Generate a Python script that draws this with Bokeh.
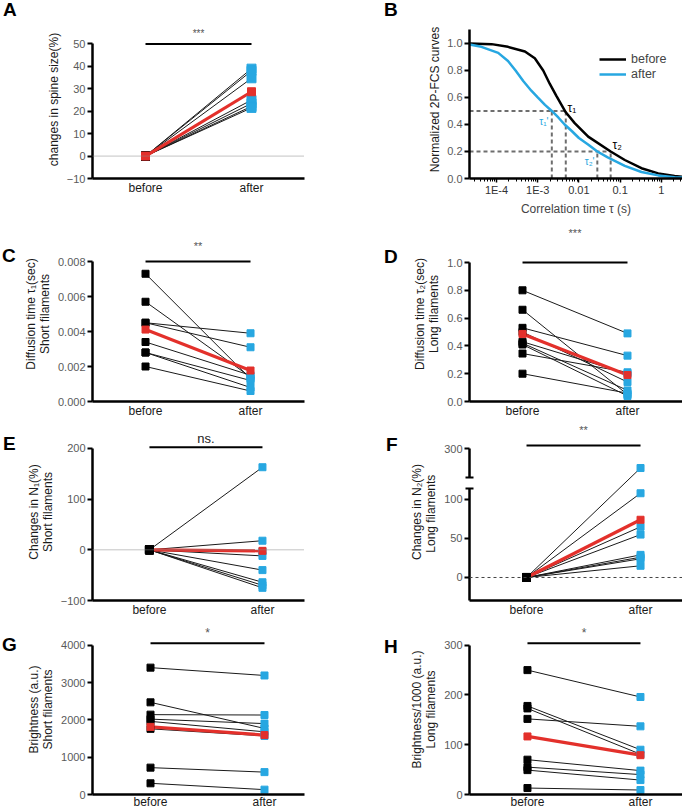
from bokeh.plotting import figure
from bokeh.layouts import column, row
from bokeh.models import (Range1d, FixedTicker, Legend, LegendItem, NumeralTickFormatter, Span, Div)
from bokeh.core.properties import value
from bokeh.embed import file_html
from bokeh.resources import INLINE

FONT = "Liberation Sans"
BLUE = "#27a7e1"
RED = "#e3302b"
TICK_GRAY = "#5a5a5a"

conditions = ["before", "after"]

# ---------------- data ----------------
# A: changes in spine size (%)
a_before = [0, 0, 0, 0, 0, 0, 0]
a_after = [39.0, 38.0, 34.7, 25.0, 23.5, 22.2, 21.5]
a_mean = [0.0, 28.7]

# B: normalized 2P-FCS curves
b_tau_before = [2.21e-5, 7.6e-5, 1.9e-4, 4.9e-4, 8.5e-4, 1.36e-3, 1.97e-3, 2.86e-3,
                4.8e-3, 7.9e-3, 0.0168, 0.059, 0.13, 0.33, 0.84, 2.1, 3.2]
b_g_before = [1.0, 0.995, 0.975, 0.94, 0.89, 0.80, 0.70, 0.61,
              0.49, 0.41, 0.31, 0.20, 0.137, 0.076, 0.038, 0.018, 0.013]
b_tau_after = [2.21e-5, 4.3e-5, 1.1e-4, 1.9e-4, 2.9e-4, 4.5e-4, 7.0e-4, 1.0e-3, 1.5e-3,
               2.2e-3, 3.2e-3, 4.5e-3, 6.8e-3, 0.010, 0.017, 0.028, 0.05, 0.13, 0.33,
               0.84, 2.1, 3.2]
b_g_after = [0.993, 0.975, 0.93, 0.87, 0.80, 0.72, 0.65, 0.60, 0.545,
             0.50, 0.45, 0.40, 0.35, 0.30, 0.25, 0.20, 0.157, 0.094, 0.048,
             0.023, 0.01, 0.007]
b_levels = [0.5, 0.2]
b_tau_marks_before = [4.8e-3, 0.059]
b_tau_marks_after = [2.2e-3, 0.028]

# C: diffusion time tau1 (s), short filaments
c_before = [0.0073, 0.0057, 0.0045, 0.0045, 0.0034, 0.0028, 0.0028, 0.0020]
c_after = [0.0013, 0.0014, 0.0039, 0.0031, 0.0015, 0.0012, 0.0008, 0.0006]
c_mean = [0.00411, 0.00177]

# D: diffusion time tau2 (s), long filaments
d_before = [0.80, 0.66, 0.53, 0.50, 0.43, 0.42, 0.41, 0.345, 0.20]
d_after = [0.49, 0.05, 0.33, 0.14, 0.20, 0.08, 0.04, 0.21, 0.06]
d_mean = [0.486, 0.19]

# E: changes in N1 (%)
e_before = [0, 0, 0, 0, 0, 0, 0, 0]
e_after = [163, 18, -3, -12, -40, -64, -70, -75]
e_mean = [0, -2]

# F: changes in N2 (%)
f_before = [0, 0, 0, 0, 0, 0, 0, 0]
f_after = [200, 108, 65, 55, 29, 26, 24, 15]
f_mean = [0, 74]

# G: brightness (a.u.), short filaments
g_before = [3400, 2470, 2140, 2020, 1960, 1760, 720, 300]
g_after = [3190, 1770, 2130, 1900, 1680, 1570, 600, 130]
g_mean = [1812, 1593]

# H: brightness/1000 (a.u.), long filaments
h_before = [250, 178, 173, 152, 70, 55, 49, 13]
h_after = [196, 90, 81, 137, 48, 40, 29, 9]
h_mean = [116.7, 79]

# ---------------- layout geometry (page pixels) ----------------
LEFT_DIV_W, RIGHT_DIV_W = 20, 60
LEFT = dict(x0=20, fl=92, fr=304, w=321)
RIGHT = dict(x0=401, fl=469, fr=682, w=281)


def base_fig(col, y0, h, ft, fb, xr, yr, **kw):
    p = figure(width=col["w"], height=h, x_range=Range1d(*xr), y_range=Range1d(*yr),
               output_backend="svg", toolbar_location=None,
               min_border_left=col["fl"] - col["x0"], min_border_right=col["x0"] + col["w"] - col["fr"],
               min_border_top=ft - y0, min_border_bottom=y0 + h - fb, **kw)
    p.outline_line_color = None
    p.xgrid.visible = False
    p.ygrid.visible = False
    return p


def style_y(ya, ticks, label, bounds=None, fmt=None):
    ya.ticker = FixedTicker(ticks=ticks)
    if bounds is not None:
        ya.bounds = bounds
    if fmt is not None:
        ya.formatter = NumeralTickFormatter(format=fmt)
    ya.axis_line_width = 2.5
    ya.axis_line_color = "black"
    ya.major_tick_out = 5
    ya.major_tick_in = 0
    ya.major_tick_line_width = 2
    ya.minor_tick_line_color = None
    ya.major_label_standoff = 2
    ya.major_label_text_font = FONT
    ya.major_label_text_font_size = "11px"
    ya.major_label_text_color = TICK_GRAY
    ya.axis_label = label
    ya.axis_label_text_font = FONT
    ya.axis_label_text_font_size = "12px"
    ya.axis_label_text_font_style = "normal"
    ya.axis_label_text_color = "#1a1a1a"
    ya.axis_label_standoff = 3
    ya.axis_label_text_line_height = 1.0


def style_x_pair(xa, standoff=2):
    xa.ticker = FixedTicker(ticks=[0, 1])
    xa.major_label_overrides = {i: c for i, c in enumerate(conditions)}
    xa.axis_line_width = 2.5
    xa.axis_line_color = "black"
    xa.major_tick_line_color = None
    xa.minor_tick_line_color = None
    xa.major_tick_out = 0
    xa.major_tick_in = 0
    xa.major_label_standoff = standoff
    xa.major_label_text_font = FONT
    xa.major_label_text_font_size = "12px"
    xa.major_label_text_color = "#1a1a1a"


def draw_pairs(p, before, after, mean, ms=7, bs=7, rs=8, red_under=False):
    n = len(before)
    xs = [[0, 1] for _ in range(n)]
    ys = [[b, a] for b, a in zip(before, after)]
    p.multi_line(xs, ys, line_color="#1a1a1a", line_width=1)
    p.line([0, 1], mean, line_color=RED, line_width=3.2)
    if red_under:
        p.scatter([0], [mean[0]], marker="square", size=rs, color=RED)
    p.scatter([0] * n, before, marker="square", size=ms, color="black")
    p.scatter([1] * n, after, marker="square", size=bs, color=BLUE)
    if red_under:
        p.scatter([1], [mean[1]], marker="square", size=rs, color=RED)
    else:
        p.scatter([0, 1], mean, marker="square", size=rs, color=RED)


def sig(p, ybar, ytext, txt, size="12px", color="#555555"):
    p.line([0, 1], [ybar, ybar], line_color="black", line_width=2)
    p.text(x=[0.5], y=[ytext], text=[txt], text_font=value(FONT), text_font_size=size,
           text_align="center", text_baseline="middle", text_color=color)


def zero_line(p, dash="1 1", color="#888888"):
    p.add_layout(Span(location=0, dimension="width", line_color=color,
                      line_width=1, line_dash=dash))


def letter_div(txt, w, h, pad_left, pad_top):
    html = ('<div style="font-family: \'Liberation Sans\', Arial, sans-serif; font-size: 19px; '
            'font-weight: bold; line-height: 19px; color: black; '
            f'padding-left: {pad_left}px; padding-top: {pad_top}px;">{txt}</div>')
    return Div(text=html, width=w, height=h, margin=0)


# ---------------- A ----------------
pA = base_fig(LEFT, 0, 224, 20, 178, (-0.5, 1.5), (-10, 60.48))
style_x_pair(pA.xaxis[0])
style_y(pA.yaxis[0], [-10, 0, 10, 20, 30, 40, 50], "changes in spine size(%)", bounds=(-10, 50))
zero_line(pA)
draw_pairs(pA, a_before, a_after, a_mean, ms=8, bs=9, rs=8)
sig(pA, 50, 54.6, "***", size="10px")

# ---------------- B ----------------
b_xr = (2.21e-5, 3.27)
pB = base_fig(RIGHT, 0, 224, 20, 178, b_xr, (0, 1.170), x_axis_type="log")
xb = pB.xaxis[0]
decades = [1e-4, 1e-3, 1e-2, 1e-1, 1]
minor = [k * 10.0 ** e for e in range(-5, 1) for k in range(2, 10)]
xb.ticker = FixedTicker(ticks=decades, minor_ticks=minor)
xb.major_label_overrides = {1e-4: "1E-4", 1e-3: "1E-3", 1e-2: "0.01", 1e-1: "0.1", 1: "1"}
xb.axis_line_width = 2.5
xb.major_tick_out = 4
xb.major_tick_in = 0
xb.major_tick_line_width = 1.5
xb.minor_tick_out = 3
xb.minor_tick_in = 0
xb.minor_tick_line_width = 1
xb.major_label_standoff = 1
xb.major_label_text_font = FONT
xb.major_label_text_font_size = "11px"
xb.major_label_text_color = "#333333"
xb.axis_label = "Correlation time \u03c4 (s)"
xb.axis_label_text_font = FONT
xb.axis_label_text_font_size = "12px"
xb.axis_label_text_font_style = "normal"
xb.axis_label_standoff = 3
style_y(pB.yaxis[0], [0, 0.2, 0.4, 0.6, 0.8, 1.0], "Normalized 2P-FCS curves",
        bounds=(0, 1.1), fmt="0.0")
pB.yaxis[0].axis_label_standoff = 2

pB.segment(x0=[b_xr[0]] * 2, y0=b_levels, x1=b_tau_marks_before, y1=b_levels,
           line_color="#6e6e6e", line_width=2, line_dash="4 3")
vx = b_tau_marks_after + b_tau_marks_before
vy = b_levels + b_levels
pB.segment(x0=vx, y0=[0] * 4, x1=vx, y1=vy, line_color="#6e6e6e", line_width=2, line_dash="4 3")
rb = pB.line(b_tau_before, b_g_before, line_color="black", line_width=2.5)
ra = pB.line(b_tau_after, b_g_after, line_color=BLUE, line_width=2.5)
pB.text(x=[5.3e-3, 0.065], y=[0.47, 0.198],
        text=["\u03c4\u2081", "\u03c4\u2082"], text_font=value(FONT), text_font_size="12px",
        text_baseline="bottom", text_align="left", text_color="black")
pB.text(x=[1.83e-3, 0.0239], y=[0.466, 0.168],
        text=["\u03c4\u2081'", "\u03c4\u2082'"], text_font=value(FONT), text_font_size="10px",
        text_baseline="top", text_align="right", text_color=BLUE)
leg = Legend(items=[LegendItem(label="before", renderers=[rb]),
                    LegendItem(label="after", renderers=[ra])],
             location=(130, 97), border_line_color=None, background_fill_alpha=0,
             label_text_font=FONT, label_text_font_size="12.5px", glyph_width=27,
             glyph_height=14, label_height=14, spacing=1, padding=0, margin=0,
             label_standoff=5)
pB.add_layout(leg)

# ---------------- C ----------------
pC = base_fig(LEFT, 224, 199, 226, 401, (-0.505, 1.514), (0, 0.0100))
style_x_pair(pC.xaxis[0])
style_y(pC.yaxis[0], [0, 0.002, 0.004, 0.006, 0.008],
        "Diffusion time \u03c4\u2081(sec)\nShort filaments", bounds=(0, 0.008), fmt="0.000")
draw_pairs(pC, c_before, c_after, c_mean, ms=7, bs=7, rs=7)
sig(pC, 0.008, 0.00891, "**", size="11px")

# ---------------- D ----------------
pD = base_fig(RIGHT, 224, 199, 226, 401, (-0.505, 1.524), (0, 1.259))
style_x_pair(pD.xaxis[0])
style_y(pD.yaxis[0], [0, 0.2, 0.4, 0.6, 0.8, 1.0],
        "Diffusion time \u03c4\u2082(sec)\nLong filaments", bounds=(0, 1.0), fmt="0.0")
draw_pairs(pD, d_before, d_after, d_mean, ms=7, bs=7, rs=7)
sig(pD, 1.0, 1.209, "***", size="11px")

# ---------------- E ----------------
pE = base_fig(LEFT, 423, 199, 423, 600, (-0.504, 1.372), (-100, 249.3))
style_x_pair(pE.xaxis[0])
style_y(pE.yaxis[0], [-100, 0, 100, 200], "Changes in N\u2081(%)\nShort filaments",
        bounds=(-100, 200))
zero_line(pE)
draw_pairs(pE, e_before, e_after, e_mean, ms=8, bs=7, rs=7, red_under=True)
sig(pE, 202.6, 219.7, "ns.", size="13px", color="#222222")


# ---------------- F (broken axis) ----------------
def f_axis(v):
    # values above the axis break are compressed into the upper segment
    return v if v <= 114 else 128 + (v - 150) * 37 / 150


f_yr = (-29.5, 197.4)
pF = base_fig(RIGHT, 423, 199, 423, 600, (-0.5, 1.368), f_yr)
style_x_pair(pF.xaxis[0])
yf = pF.yaxis[0]
top_tick = f_axis(300)
style_y(yf, [0, 50, 100, top_tick], "Changes in N\u2082(%)\nLong  filaments",
        bounds=(f_yr[0], top_tick))
yf.ticker = FixedTicker(ticks=[0, 50, 100, top_tick], minor_ticks=[114, 128])
yf.major_label_overrides = {top_tick: "300"}
yf.minor_tick_line_color = "black"
yf.minor_tick_line_width = 2
yf.minor_tick_in = 4
yf.minor_tick_out = 4
# gap in the axis line between the two segments (bottom -> top: lower, gap, upper)
yf.axis_line_dash = "112 11 29 40"
zero_line(pF, dash="3 3", color="#444444")
draw_pairs(pF, f_before, [f_axis(v) for v in f_after], f_mean, ms=8, bs=7, rs=7, red_under=True)
sig(pF, 169.2, 188.5, "**", size="11px")

# ---------------- G ----------------
pG = base_fig(LEFT, 622, 189, 624, 796, (-0.509, 1.351), (0, 4556))
style_x_pair(pG.xaxis[0], standoff=0)
style_y(pG.yaxis[0], [0, 1000, 2000, 3000, 4000], "Brightness (a.u.)\nShort filaments",
        bounds=(0, 4000))
draw_pairs(pG, g_before, g_after, g_mean, ms=7, bs=7, rs=7)
sig(pG, 4053, 4316, "*", size="12px")

# ---------------- H ----------------
pH = base_fig(RIGHT, 622, 189, 624, 796, (-0.513, 1.372), (0, 341.7))
style_x_pair(pH.xaxis[0], standoff=0)
style_y(pH.yaxis[0], [0, 100, 200, 300], "Brightness/1000 (a.u.)\nLong filaments", bounds=(0, 300))
draw_pairs(pH, h_before, h_after, h_mean, ms=7, bs=7, rs=7)
sig(pH, 304, 323.7, "*", size="12px")

layout = column(
    row(letter_div("A", LEFT_DIV_W, 224, 3, 0), pA, letter_div("B", RIGHT_DIV_W, 224, 43, 0), pB),
    row(letter_div("C", LEFT_DIV_W, 199, 2, 22), pC, letter_div("D", RIGHT_DIV_W, 199, 43, 23), pD),
    row(letter_div("E", LEFT_DIV_W, 199, 3, 11), pE, letter_div("F", RIGHT_DIV_W, 199, 45, 12), pF),
    row(letter_div("G", LEFT_DIV_W, 189, 2, 13), pG, letter_div("H", RIGHT_DIV_W, 189, 43, 15), pH),
)
open("out.html", "w").write(file_html(layout, INLINE))
